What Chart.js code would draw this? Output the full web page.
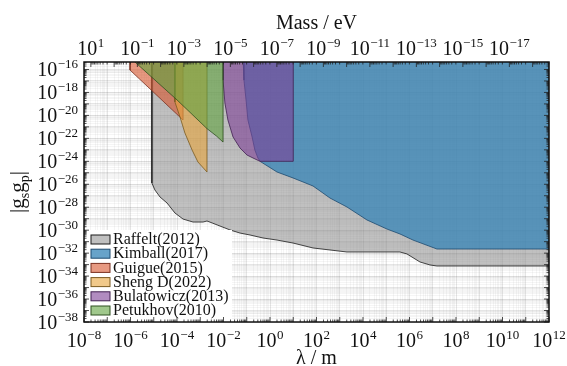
<!DOCTYPE html>
<html>
<head>
<meta charset="utf-8">
<script src="https://cdn.jsdelivr.net/npm/chart.js@4.4.0/dist/chart.umd.min.js"></script>
<style>
  html, body { margin: 0; padding: 0; background: #fff; }
  canvas { display: block; }
</style>
</head>
<body>
<canvas id="myChart" width="567" height="366"></canvas>
<script>
// excluded regions as log10 values (lambda in m, |gs gp|)
// each list walks round the region; -15 is above the top of the axis
const raffeltLogLambda = [-5.08, -5.08, -4.95, -4.73, -4.43, -4.09, -3.74, -3.31, -2.88, -2.71, -2.49, -2.15, -1.72, -1.29, -0.86, -0.30, 0.30, 0.99, 1.85, 3.31, 5.59, 5.89, 6.45, 6.88, 7.18, 12, 12]
const raffeltLogG = [-15, -25.89, -26.50, -27.11, -27.63, -28.50, -29.03, -29.29, -29.29, -29.20, -29.37, -29.64, -29.98, -30.25, -30.42, -30.68, -30.86, -31.12, -31.55, -31.90, -31.90, -32.07, -32.77, -33.03, -33.12, -33.12, -15]

const kimballLogLambda = [-1.16, -1.12, -1.03, -0.95, -0.77, -0.65, -0.52, -0.43, 0.30, 0.99, 1.85, 2.58, 3.31, 4.17, 5.03, 5.59, 6.15, 7.18, 12, 12]
const kimballLogG = [-15, -16.92, -18.66, -20.40, -21.88, -23.02, -23.71, -24.0, -24.93, -25.45, -26.15, -27.20, -27.98, -29.11, -29.90, -30.33, -30.86, -31.64, -31.64, -15]

const guigueLogLambda = [-6.02, -6.02, -3.74, -3.74]
const guigueLogG = [-15, -16.05, -20.40, -15]

const shengLogLambda = [-4.09, -4.09, -3.87, -3.66, -3.35, -3.10, -2.71, -2.71]
const shengLogG = [-15, -18.83, -20.14, -21.53, -23.02, -24.06, -24.93, -15]

const bulatowiczLogLambda = [-2.02, -2.02, -1.94, -1.81, -1.59, -1.29, -0.99, -0.73, -0.43, 1.0, 1.0]
const bulatowiczLogG = [-15, -16.92, -18.92, -20.40, -21.88, -22.84, -23.45, -23.71, -24.0, -24.0, -15]

const petukhovLogLambda = [-6.0, -4.0, -2.71, -2.3, -2.02, -2.02]
const petukhovLogG = [-15, -18.65, -21.15, -21.8, -22.32, -15]

const regionLabels = ['Raffelt(2012)', 'Kimball(2017)', 'Guigue(2015)', 'Sheng D(2022)', 'Bulatowicz(2013)', 'Petukhov(2010)']
const regionFills = ['rgba(140,140,140,0.55)', 'rgba(53,132,183,0.75)', 'rgba(215,85,45,0.6)', 'rgba(232,165,60,0.6)', 'rgba(125,63,150,0.6)', 'rgba(97,163,63,0.6)']
const regionLines = ['#1a1a1a', '#1d4a70', '#7a3020', '#7a5a20', '#402050', '#2f5020']

const hbarC = 1.9733e-7 // eV m, mass = hbarC / lambda
const serif = "'Liberation Serif', 'Times New Roman', serif"

function toPoints(lx, ly) {
  return lx.map((v, i) => ({x: Math.pow(10, v), y: Math.pow(10, ly[i])}))
}

function logTicks(lo, hi) {
  let t = []
  for (let e = Math.floor(Math.log10(lo)) ; e <= Math.ceil(Math.log10(hi)); e++) {
    for (let m = 1; m < 10; m++) {
      const v = m * Math.pow(10, e)
      if (v >= lo * 0.999 && v <= hi * 1.001) t.push({value: v, decade: m === 1})
    }
  }
  return t
}

// exponent of a labelled tick, or null
function tickExp(v, parity) {
  const l = Math.log10(v)
  const e = Math.round(l)
  if (Math.abs(l - e) > 1e-6 || Math.abs(e % 2) !== parity) return null
  return e
}

// "10" with a raised exponent
function drawPow(ctx, e, x, y, align) {
  const ex = String(e).replace('-', '\u2212')
  ctx.font = '20px ' + serif
  const wb = ctx.measureText('10').width
  ctx.font = '13px ' + serif
  const we = ctx.measureText(ex).width
  const w = wb + we + 0.5
  const x0 = align === 'right' ? x - w : x - w / 2
  ctx.font = '20px ' + serif
  ctx.fillText('10', x0, y)
  ctx.font = '13px ' + serif
  ctx.fillText(ex, x0 + wb + 0.5, y - 8)
}

const gridColor = (c) => (c.tick && c.tick.decade) ? 'rgba(0,0,0,0.1)' : 'rgba(0,0,0,0.04)'

const allLogLambda = [raffeltLogLambda, kimballLogLambda, guigueLogLambda, shengLogLambda, bulatowiczLogLambda, petukhovLogLambda]
const allLogG = [raffeltLogG, kimballLogG, guigueLogG, shengLogG, bulatowiczLogG, petukhovLogG]

const datasets = regionLabels.map((label, i) => ({
  label: label,
  data: toPoints(allLogLambda[i], allLogG[i]),
  showLine: true,
  fill: 'shape',
  backgroundColor: regionFills[i],
  borderColor: regionLines[i],
  borderWidth: 0.8,
  pointRadius: 0,
  order: 6 - i
}))

const framePlugin = {
  id: 'frame',
  afterDraw(chart) {
    const ctx = chart.ctx
    const a = chart.chartArea
    const xs = chart.scales.x, x2 = chart.scales.x2, ys = chart.scales.y
    ctx.save()

    // legend box in the lower left corner
    ctx.fillStyle = '#fff'
    ctx.fillRect(a.left + 1, a.bottom - 92, 147, 91)
    ctx.font = '16px ' + serif
    ctx.textBaseline = 'middle'
    chart.data.datasets.forEach((ds, i) => {
      const y = a.bottom - 82.5 + i * 14.2
      ctx.fillStyle = ds.backgroundColor
      ctx.fillRect(a.left + 7, y - 4.5, 19, 9)
      ctx.strokeStyle = ds.borderColor
      ctx.lineWidth = 1
      ctx.strokeRect(a.left + 7, y - 4.5, 19, 9)
      ctx.fillStyle = '#111'
      ctx.fillText(ds.label, a.left + 29, y + 0.5)
    })

    // inward tick marks
    ctx.strokeStyle = '#222'
    ctx.lineWidth = 0.8
    ctx.beginPath()
    xs.ticks.forEach(t => {
      const p = xs.getPixelForValue(t.value), len = t.decade ? 5 : 2.5
      ctx.moveTo(p, a.bottom); ctx.lineTo(p, a.bottom - len)
    })
    x2.ticks.forEach(t => {
      const p = x2.getPixelForValue(t.value), len = t.decade ? 5 : 2.5
      ctx.moveTo(p, a.top); ctx.lineTo(p, a.top + len)
    })
    ys.ticks.forEach(t => {
      const p = ys.getPixelForValue(t.value), len = t.decade ? 5 : 2.5
      ctx.moveTo(a.left, p); ctx.lineTo(a.left + len, p)
      ctx.moveTo(a.right, p); ctx.lineTo(a.right - len, p)
    })
    ctx.stroke()

    // frame
    ctx.strokeStyle = '#111'
    ctx.lineWidth = 1.5
    ctx.strokeRect(a.left, a.top, a.right - a.left, a.bottom - a.top)

    // tick labels
    ctx.fillStyle = '#111'
    ctx.textBaseline = 'alphabetic'
    xs.ticks.forEach(t => {
      const e = tickExp(t.value, 0)
      if (e !== null) drawPow(ctx, e, xs.getPixelForValue(t.value), a.bottom + 25, 'center')
    })
    x2.ticks.forEach(t => {
      const e = tickExp(t.value, 1)
      if (e !== null) drawPow(ctx, e, x2.getPixelForValue(t.value), a.top - 7, 'center')
    })
    ys.ticks.forEach(t => {
      const e = tickExp(t.value, 0)
      if (e !== null) drawPow(ctx, e, a.left - 6, ys.getPixelForValue(t.value) + 7, 'right')
    })

    // y title |g_s g_p|
    ctx.translate(24, (a.top + a.bottom) / 2)
    ctx.rotate(-Math.PI / 2)
    const big = '21px ' + serif, small = '14px ' + serif
    const parts = [['|', big, 0], ['g', big, 0], ['s', small, 5], ['g', big, 0], ['p', small, 5], ['|', big, 0]]
    let w = 0
    parts.forEach(p => { ctx.font = p[1]; w += ctx.measureText(p[0]).width })
    let x = -w / 2
    parts.forEach(p => {
      ctx.font = p[1]
      ctx.fillText(p[0], x, p[2])
      x += ctx.measureText(p[0]).width
    })
    ctx.restore()
  }
}

const ctx = document.getElementById('myChart').getContext('2d')
const myChart = new Chart(ctx, {
  type: 'scatter',
  data: {datasets: datasets},
  options: {
    responsive: false,
    devicePixelRatio: 1,
    animation: false,
    layout: {padding: {left: 0, right: 18, top: 0, bottom: 0}},
    plugins: {
      legend: {display: false},
      tooltip: {enabled: false}
    },
    scales: {
      x: {
        type: 'logarithmic',
        position: 'bottom',
        min: 1e-8,
        max: 1e12,
        afterBuildTicks: (s) => { s.ticks = logTicks(1e-8, 1e12) },
        afterFit: (s) => { s.height = 44; s.paddingLeft = 0; s.paddingRight = 0 },
        ticks: {display: false, autoSkip: false},
        grid: {color: gridColor, drawTicks: false},
        border: {display: false},
        title: {display: true, text: 'λ / m', color: '#111', font: {family: serif, size: 20, lineHeight: 1}, padding: {top: 0, bottom: -2.5}}
      },
      x2: {
        type: 'logarithmic',
        position: 'top',
        reverse: true,
        min: hbarC / 1e12,
        max: hbarC / 1e-8,
        afterBuildTicks: (s) => { s.ticks = logTicks(hbarC / 1e12, hbarC / 1e-8) },
        afterFit: (s) => { s.height = 62; s.paddingLeft = 0; s.paddingRight = 0 },
        ticks: {display: false, autoSkip: false},
        grid: {drawOnChartArea: false, drawTicks: false},
        border: {display: false},
        title: {display: true, text: 'Mass / eV', color: '#111', font: {family: serif, size: 20, lineHeight: 1}, padding: {top: 14, bottom: 0}}
      },
      y: {
        type: 'logarithmic',
        position: 'left',
        min: 1e-38,
        max: 4.5e-16,
        afterBuildTicks: (s) => { s.ticks = logTicks(1e-38, 4.5e-16) },
        afterFit: (s) => { s.width = 84 },
        ticks: {display: false, autoSkip: false},
        grid: {color: gridColor, drawTicks: false},
        border: {display: false}
      }
    }
  },
  plugins: [framePlugin]
})
</script>
</body>
</html>
